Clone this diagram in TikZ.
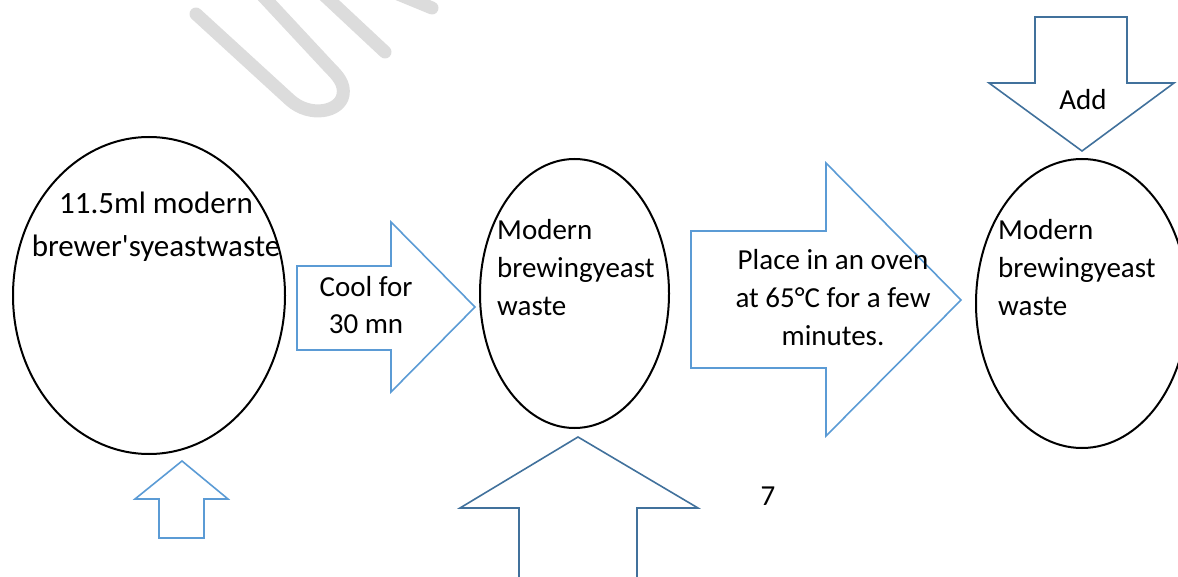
\documentclass[tikz,border=0pt]{standalone}
\usepackage{fontspec}
\setmainfont{Carlito}[Ligatures=TeXOff]
\usetikzlibrary{shapes.geometric}
\definecolor{lblue}{HTML}{5B9BD5}
\definecolor{dblue}{HTML}{41719C}
\definecolor{wmark}{HTML}{DCDCDC}
\tikzset{
  blob/.style={draw=black, line width=2pt, ellipse, inner sep=0pt},
  larrow/.style={draw=lblue, line width=1.6pt, line join=miter},
  darrow/.style={draw=dblue, line width=1.6pt, line join=miter},
  lbl/.style={inner sep=0pt, font=\fontsize{29}{38}\selectfont},
  wm/.style={draw=wmark, line width=13pt, line cap=round},
}
\begin{document}
\begin{tikzpicture}[x=1pt,y=-1pt]
\clip (0,0) rectangle (1178,577);
% watermark
\draw[wm] (196,14) -- (290,100) .. controls (310,118) and (340,112) .. (343,95) .. controls (345,84) and (338,76) .. (330,68) -- (262,-5);
\draw[wm] (324,-5) -- (385,52);
\draw[wm] (398,-6) -- (432,8);
% ellipses
\node[blob, minimum width=272pt, minimum height=317pt] (e1) at (149,295.5) {};
\node[blob, minimum width=189pt, minimum height=269pt] (e2) at (574.5,293.5) {};
\node[blob, minimum width=212pt, minimum height=289pt] (e3) at (1082,303.5) {};
% texts in ellipses (base anchor = baseline of the last line)
\node[lbl, font=\fontsize{31}{43}\selectfont, align=center, anchor=base] (t1) at (156,257) {11.5ml modern\\brewer'syeastwaste};
\node[lbl, align=left, anchor=base west] (t2) at (497,316) {Modern\\brewingyeast\\waste};
\node[lbl, align=left, anchor=base west] (t3) at (998,316) {Modern\\brewingyeast\\waste};
% arrows
\draw[larrow] (297,266) -- (391,266) -- (391,222) -- (475,307) -- (391,392) -- (391,350) -- (297,350) -- cycle;
\node[lbl, font=\fontsize{29}{37}\selectfont, align=center, anchor=base] (cool) at (366,334) {Cool for\\30 mn};
\draw[larrow] (182,461) -- (228,499) -- (204,499) -- (204,538) -- (159,538) -- (159,499) -- (135,499) -- cycle;
\draw[darrow] (578,437) -- (698,508) -- (637,508) -- (637,600) -- (519,600) -- (519,508) -- (460,508) -- cycle;
\draw[larrow] (691,231) -- (826,231) -- (826,163) -- (961,300) -- (826,436) -- (826,368) -- (691,368) -- cycle;
\node[lbl, align=center, anchor=base] (oven) at (833,345) {Place in an oven\\at 65°C for a few\\minutes.};
\draw[darrow] (1035,17) -- (1127,17) -- (1127,83) -- (1174,83) -- (1082,151) -- (989,83) -- (1035,83) -- cycle;
\node[lbl, anchor=base] (add) at (1083,110) {Add};
\node[lbl, anchor=base] (seven) at (768,505) {7};
\end{tikzpicture}
\end{document}
